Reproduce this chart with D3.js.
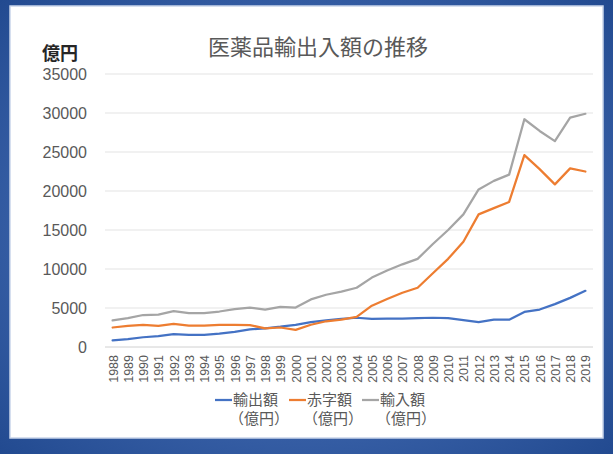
<!DOCTYPE html>
<html>
<head>
<meta charset="utf-8">
<script src="https://cdn.jsdelivr.net/npm/d3@7"></script>
<style>
    html, body { margin: 0; padding: 0; }
    body {
        width: 613px; height: 454px; overflow: hidden;
        background: radial-gradient(ellipse at 50% 50%, #4d74bb 0%, #3b63aa 55%, #224a90 100%);
    }
</style>
</head>
<body>
<script>
// 医薬品輸出入額の推移 (億円)
var years = d3.range(1988, 2020).map(String);

var exportVals = [850, 1000, 1250, 1400, 1650, 1550, 1550, 1700, 1950, 2250,
    2400, 2600, 2850, 3200, 3400, 3600, 3750, 3600, 3650, 3650,
    3700, 3750, 3700, 3450, 3200, 3500, 3500, 4500, 4800, 5500,
    6300, 7200];

var deficitVals = [2500, 2700, 2850, 2700, 2950, 2750, 2750, 2850, 2850, 2800,
    2400, 2500, 2200, 2850, 3300, 3500, 3850, 5300, 6150, 6950,
    7600, 9450, 11300, 13500, 17000, 17800, 18600, 24600, 22800, 20850,
    22900, 22500];

var importVals = [3400, 3700, 4100, 4150, 4600, 4350, 4350, 4550, 4850, 5050,
    4800, 5150, 5050, 6100, 6700, 7100, 7600, 8900, 9800, 10600,
    11300, 13200, 15000, 17000, 20200, 21300, 22100, 29200, 27700, 26400,
    29400, 29900];

var yTicks = [0, 5000, 10000, 15000, 20000, 25000, 30000, 35000];

var seriesNames = ["輸出額", "赤字額", "輸入額"];
var seriesColors = ["#4472c4", "#ed7d31", "#a5a5a5"];
var seriesValues = [exportVals, deficitVals, importVals];

var W = 613, H = 454;
var numFont = "'Liberation Sans', Arial, sans-serif";
var jpFont = "'Noto Sans CJK JP', sans-serif";

var svg = d3.select("body").append("svg")
    .attr("width", W)
    .attr("height", H)
    .style("display", "block");

// white panel
svg.append("rect")
    .attr("x", 10).attr("y", 6)
    .attr("width", 593).attr("height", 432)
    .attr("fill", "#ffffff")
    .attr("stroke", "#c9d5ea")
    .attr("stroke-width", 1.5);

var plot = {left: 105, right: 593, top: 74, bottom: 347};

var xScale = d3.scalePoint()
    .domain(years)
    .range([plot.left, plot.right])
    .padding(0.5);

var yScale = d3.scaleLinear()
    .domain([0, 35000])
    .range([plot.bottom, plot.top]);

// gridlines
svg.append("g")
    .selectAll("line")
    .data(yTicks)
    .enter()
    .append("line")
    .attr("x1", plot.left)
    .attr("x2", plot.right)
    .attr("y1", function (d) { return yScale(d); })
    .attr("y2", function (d) { return yScale(d); })
    .attr("stroke", function (d) { return d === 0 ? "#d0d0d0" : "#e3e3e3"; })
    .attr("stroke-width", 1);

// y axis labels
var yAxis = d3.axisLeft(yScale)
    .tickValues(yTicks)
    .tickSize(0)
    .tickPadding(0)
    .tickFormat(d3.format("d"));

var gy = svg.append("g")
    .attr("transform", "translate(87,0)")
    .call(yAxis);
gy.select(".domain").remove();
gy.selectAll("text")
    .attr("font-family", numFont)
    .attr("font-size", "16px")
    .attr("fill", "#595959")
    .attr("dy", "0.35em");

// x axis labels (rotated)
var xAxis = d3.axisBottom(xScale).tickSize(0).tickPadding(0);
var gx = svg.append("g")
    .attr("transform", "translate(0," + plot.bottom + ")")
    .call(xAxis);
gx.select(".domain").remove();
gx.selectAll("text")
    .attr("font-family", numFont)
    .attr("font-size", "12.5px")
    .attr("fill", "#595959")
    .attr("text-anchor", "end")
    .attr("transform", "rotate(-90)")
    .attr("x", -8)
    .attr("y", 0)
    .attr("dy", "0.35em");

// lines
var line = d3.line()
    .x(function (d, i) { return xScale(years[i]); })
    .y(function (d) { return yScale(d); });

svg.append("g")
    .selectAll("path")
    .data(seriesValues)
    .enter()
    .append("path")
    .attr("d", function (d) { return line(d); })
    .attr("fill", "none")
    .attr("stroke", function (d, i) { return seriesColors[i]; })
    .attr("stroke-width", 2.25)
    .attr("stroke-linejoin", "round")
    .attr("stroke-linecap", "round");

// title
svg.append("text")
    .attr("x", 318)
    .attr("y", 47)
    .attr("dy", "0.35em")
    .attr("text-anchor", "middle")
    .attr("font-family", jpFont)
    .attr("font-size", "22px")
    .attr("fill", "#595959")
    .text("医薬品輸出入額の推移");

// unit label
svg.append("text")
    .attr("x", 42)
    .attr("y", 54)
    .attr("dy", "0.35em")
    .attr("font-family", jpFont)
    .attr("font-size", "18px")
    .attr("font-weight", "bold")
    .attr("fill", "#262626")
    .text("億円");

// legend
var legendX = [215, 289, 362];
var legend = svg.append("g")
    .selectAll("g")
    .data(seriesNames)
    .enter()
    .append("g")
    .attr("transform", function (d, i) {
        return "translate(" + legendX[i] + ",400)";
    });

legend.append("line")
    .attr("x1", 0).attr("x2", 17)
    .attr("y1", 0).attr("y2", 0)
    .attr("stroke", function (d, i) { return seriesColors[i]; })
    .attr("stroke-width", 2.25);

legend.append("text")
    .attr("x", 18)
    .attr("y", 0)
    .attr("dy", "0.35em")
    .attr("font-family", jpFont)
    .attr("font-size", "15px")
    .attr("fill", "#595959")
    .text(function (d) { return d; });

legend.append("text")
    .attr("x", 14)
    .attr("y", 19)
    .attr("dy", "0.35em")
    .attr("font-family", jpFont)
    .attr("font-size", "15px")
    .attr("fill", "#595959")
    .text("（億円）");
</script>
</body>
</html>
